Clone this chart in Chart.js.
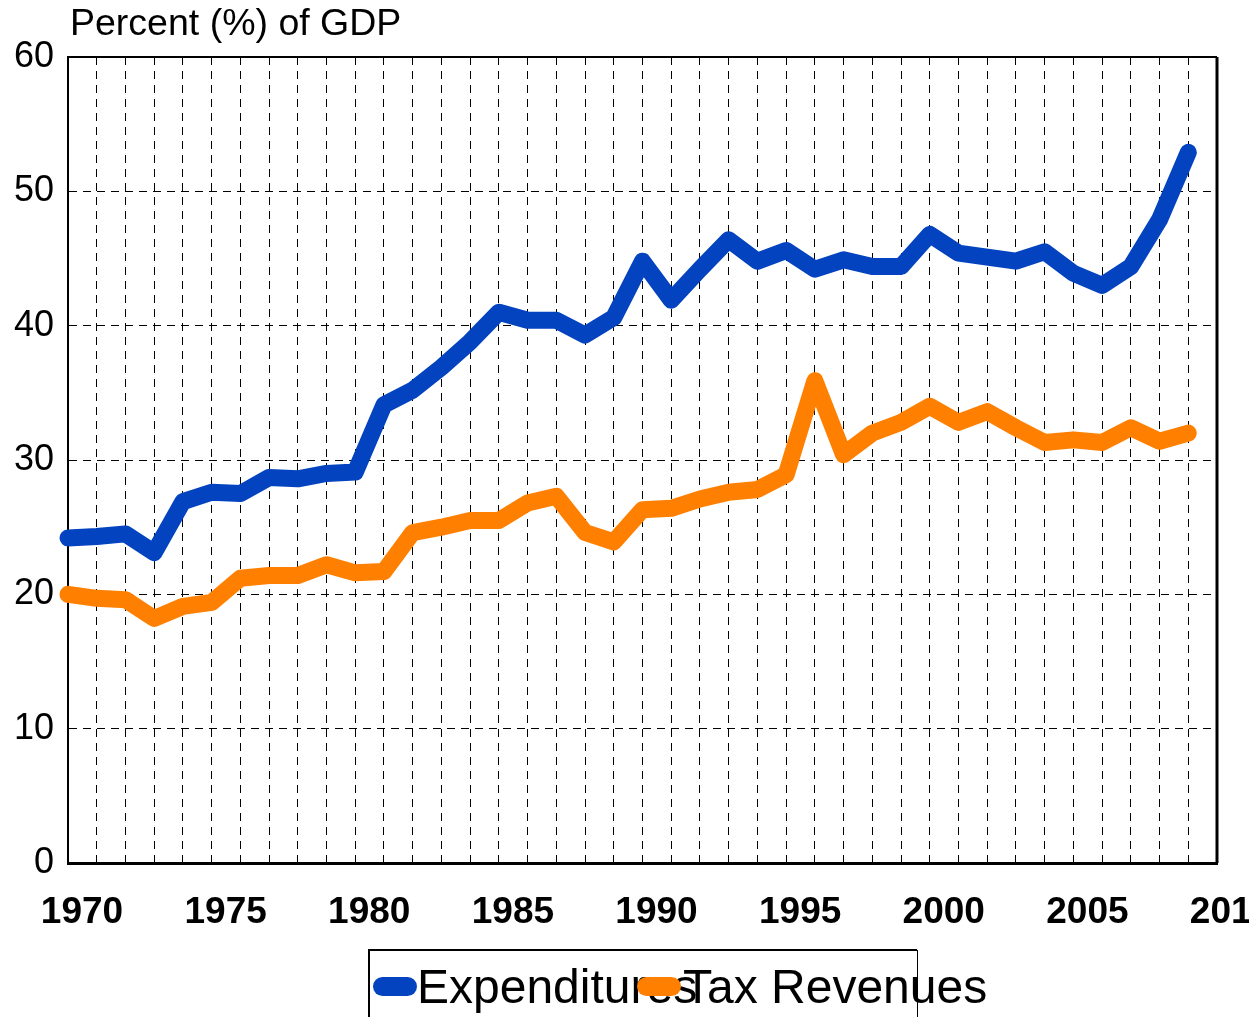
<!DOCTYPE html>
<html>
<head>
<meta charset="utf-8">
<script src="https://cdn.jsdelivr.net/npm/chart.js@4.4.1/dist/chart.umd.min.js"></script>
<style>
  body { margin: 0; background: #fff; }
  canvas { display: block; }
</style>
</head>
<body>
<canvas id="gdpChart" width="1249" height="1017"></canvas>
<script>
// Values (percent of GDP)
const years = [1970, 1971, 1972, 1973, 1974, 1975, 1976, 1977, 1978, 1979,
               1980, 1981, 1982, 1983, 1984, 1985, 1986, 1987, 1988, 1989,
               1990, 1991, 1992, 1993, 1994, 1995, 1996, 1997, 1998, 1999,
               2000, 2001, 2002, 2003, 2004, 2005, 2006, 2007, 2008, 2009];
const expenditures = [24.2, 24.3, 24.5, 23.1, 26.9, 27.6, 27.5, 28.7, 28.6, 29.0,
                      29.1, 34.1, 35.2, 36.9, 38.8, 41.0, 40.4, 40.4, 39.3, 40.6,
                      44.8, 41.9, 44.2, 46.4, 44.8, 45.6, 44.2, 44.9, 44.4, 44.4,
                      46.8, 45.4, 45.1, 44.8, 45.5, 43.9, 43.0, 44.4, 47.9, 52.9];
const taxRevenues = [20.0, 19.7, 19.6, 18.2, 19.1, 19.4, 21.2, 21.4, 21.4, 22.2,
                     21.6, 21.7, 24.6, 25.0, 25.5, 25.5, 26.8, 27.3, 24.6, 23.9,
                     26.3, 26.4, 27.1, 27.6, 27.8, 28.9, 35.9, 30.4, 32.0, 32.8,
                     34.0, 32.8, 33.6, 32.4, 31.3, 31.5, 31.3, 32.4, 31.4, 32.0];
const xTickLabels = [1970, 1975, 1980, 1985, 1990, 1995, 2000, 2005, 2010];
const yTickLabels = [0, 10, 20, 30, 40, 50, 60];

const seriesNames = ['Expenditures', 'Tax Revenues'];
const seriesColors = ['#0343BF', '#FF8000'];

const toPoints = vals => vals.map((v, i) => ({ x: years[i], y: v }));

// frame (top + right edges), title and the odd overlapping legend box
const decorations = {
    id: 'decorations',
    beforeDatasetsDraw(chart) {
        const { ctx, chartArea: a } = chart;
        ctx.save();
        ctx.strokeStyle = '#000';
        ctx.lineWidth = 2;
        ctx.beginPath();
        ctx.moveTo(a.left, a.top);
        ctx.lineTo(a.right, a.top);
        ctx.stroke();
        ctx.lineWidth = 3;
        ctx.beginPath();
        ctx.moveTo(a.right, a.top);
        ctx.lineTo(a.right, a.bottom);
        ctx.stroke();
        ctx.restore();
    },
    afterDraw(chart) {
        const ctx = chart.ctx;
        ctx.save();
        // title
        ctx.fillStyle = '#000';
        ctx.font = '37.5px "Liberation Sans", Arial, sans-serif';
        ctx.textBaseline = 'alphabetic';
        ctx.fillText('Percent (%) of GDP', 70, 35);

        // legend frame
        ctx.strokeStyle = '#000';
        ctx.lineWidth = 2;
        ctx.beginPath();
        ctx.moveTo(369, 1017);
        ctx.lineTo(369, 950);
        ctx.lineTo(917, 950);
        ctx.stroke();
        ctx.lineWidth = 1;
        ctx.beginPath();
        ctx.moveTo(917.5, 950);
        ctx.lineTo(917.5, 1017);
        ctx.stroke();

        // legend items
        const markerX = [373, 637];
        const textX = [417, 683];
        chart.data.datasets.forEach((ds, i) => {
            ctx.fillStyle = ds.borderColor;
            ctx.beginPath();
            ctx.roundRect(markerX[i], 977, 44, 19, 9.5);
            ctx.fill();
            ctx.fillStyle = '#000';
            ctx.font = '48px "Liberation Sans", Arial, sans-serif';
            ctx.fillText(ds.label, textX[i], 1003);
        });
        ctx.restore();
    }
};

new Chart(document.getElementById('gdpChart'), {
    type: 'line',
    data: {
        datasets: [
            {
                label: seriesNames[0],
                data: toPoints(expenditures),
                borderColor: seriesColors[0],
                backgroundColor: seriesColors[0],
                borderWidth: 17
            },
            {
                label: seriesNames[1],
                data: toPoints(taxRevenues),
                borderColor: seriesColors[1],
                backgroundColor: seriesColors[1],
                borderWidth: 17
            }
        ]
    },
    options: {
        responsive: false,
        animation: false,
        layout: { padding: { top: 57, right: 32, left: 0, bottom: 0 } },
        elements: {
            point: { radius: 0, hoverRadius: 0 },
            line: { tension: 0, borderCapStyle: 'round', borderJoinStyle: 'round', fill: false }
        },
        datasets: { line: { clip: false } },
        plugins: {
            legend: { display: false },
            title: { display: false },
            tooltip: { enabled: false }
        },
        scales: {
            x: {
                type: 'linear',
                min: 1970,
                max: 2010,
                afterFit(scale) {
                    scale.height = 154;
                    scale.paddingLeft = 0;
                    scale.paddingRight = 0;
                },
                grid: { color: '#000', lineWidth: 1, drawTicks: false },
                border: { display: true, color: '#000', width: 3, dash: [8, 6] },
                ticks: {
                    stepSize: 1,
                    autoSkip: false,
                    maxRotation: 0,
                    padding: 28,
                    labelOffset: 14,
                    color: '#000',
                    font: { family: '"Liberation Sans", Arial, sans-serif', size: 37, weight: 'bold' },
                    callback: v => xTickLabels.includes(v) ? String(v) : ''
                }
            },
            y: {
                min: 0,
                max: 60,
                afterFit(scale) {
                    scale.width = 68;
                    scale.paddingTop = 0;
                    scale.paddingBottom = 0;
                },
                grid: { color: '#000', lineWidth: 1, drawTicks: false },
                border: { display: true, color: '#000', width: 2, dash: [8, 6] },
                ticks: {
                    stepSize: 10,
                    padding: 14,
                    color: '#000',
                    font: { family: '"Liberation Sans", Arial, sans-serif', size: 36 },
                    callback: v => yTickLabels.includes(v) ? String(v) : ''
                }
            }
        }
    },
    plugins: [decorations]
});
</script>
</body>
</html>
